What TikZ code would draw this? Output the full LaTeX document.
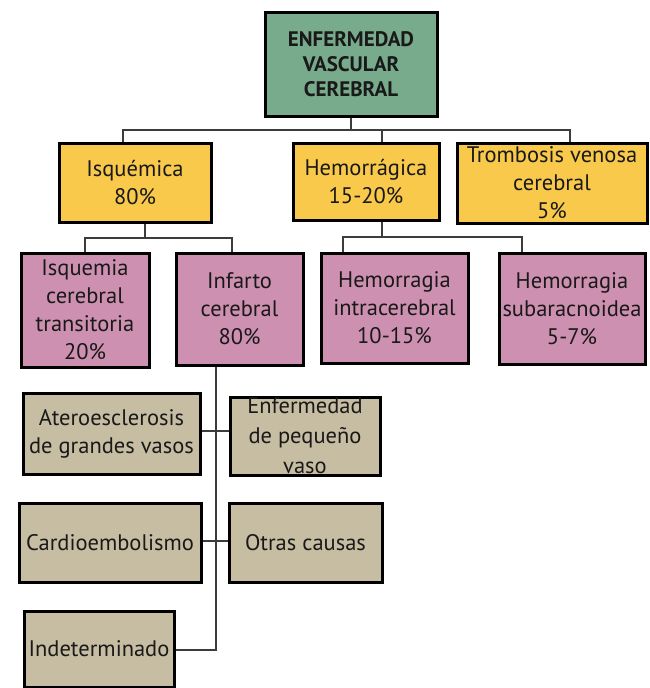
\documentclass[tikz,border=0pt]{standalone}
\usepackage{fontspec}
\setmainfont{PT Sans}
\definecolor{cgreen}{RGB}{120,170,140}
\definecolor{cyellow}{RGB}{249,201,76}
\definecolor{cpink}{RGB}{206,144,176}
\definecolor{ctan}{RGB}{199,189,162}
\definecolor{ctext}{RGB}{25,25,25}
\definecolor{cline}{RGB}{60,60,60}
\tikzset{
  box/.style={draw=black, line width=3pt, inner sep=0pt, align=center, text=ctext,
    font=\fontsize{22.5}{28}\selectfont},
  topbox/.style={box, fill=cgreen, font=\bfseries\fontsize{21}{25}\selectfont},
  lvlone/.style={box, fill=cyellow},
  lvltwo/.style={box, fill=cpink},
  lvlthree/.style={box, fill=ctan},
  conn/.style={draw=cline, line width=1.2pt}
}
\begin{document}
\begin{tikzpicture}[x=1pt,y=-1pt]
\useasboundingbox[fill=white] (0,0) rectangle (650,688);
% nodes
\node[topbox, minimum width=172pt, minimum height=104pt] (top) at (351,64) {ENFERMEDAD\\VASCULAR\\CEREBRAL};
\node[lvlone, minimum width=152pt, minimum height=79pt] (isq) at (135,182.5) {Isquémica\\80\%};
\node[lvlone, minimum width=146pt, minimum height=77pt] (hemo) at (366,181.5) {Hemorrágica\\15-20\%};
\node[lvlone, minimum width=190pt, minimum height=80pt] (trom) at (552,183) {Trombosis venosa\\cerebral\\5\%};
\node[lvltwo, minimum width=128pt, minimum height=114pt] (isqt) at (85,310) {Isquemia\\cerebral\\transitoria\\20\%};
\node[lvltwo, minimum width=127pt, minimum height=112pt] (inf) at (239.5,309) {Infarto\\cerebral\\80\%};
\node[lvltwo, minimum width=147pt, minimum height=110pt] (hemi) at (394.5,308) {Hemorragia\\intracerebral\\10-15\%};
\node[lvltwo, minimum width=146pt, minimum height=111pt] (hems) at (572,308.5) {Hemorragia\\subaracnoidea\\5-7\%};
\node[lvlthree, minimum width=177pt, minimum height=81pt] (atero) at (111.5,433.5) {Ateroesclerosis\\de grandes vasos};
\node[lvlthree, minimum width=150pt, minimum height=78pt, font=\fontsize{22.5}{30}\selectfont] (peq) at (305,436) {Enfermedad\\de pequeño\\vaso};
\node[lvlthree, minimum width=182pt, minimum height=79pt] (cardio) at (110,542.5) {Cardioembolismo};
\node[lvlthree, minimum width=153pt, minimum height=79pt] (otras) at (305.5,542.5) {Otras causas};
\node[lvlthree, minimum width=150pt, minimum height=76pt] (indet) at (99,649) {Indeterminado};
% level 0 -> 1
\coordinate (b0) at (351,130);
\coordinate (bl) at (123,130);
\coordinate (bm) at (382,130);
\coordinate (br) at (570,130);
\draw[conn] (top.south) -- (b0);
\draw[conn] (bl |- isq.north) -- (bl) -- (br) -- (br |- trom.north);
\draw[conn] (bm) -- (bm |- hemo.north);
% isquemica -> children
\coordinate (c0) at (145,238);
\coordinate (cl) at (85,238);
\coordinate (cr) at (232,238);
\draw[conn] (c0 |- isq.south) -- (c0);
\draw[conn] (cl |- isqt.north) -- (cl) -- (cr) -- (cr |- inf.north);
% hemorragica -> children
\coordinate (d0) at (382,237);
\coordinate (dl) at (343,237);
\coordinate (dr) at (522,237);
\draw[conn] (d0 |- hemo.south) -- (d0);
\draw[conn] (dl |- hemi.north) -- (dl) -- (dr) -- (dr |- hems.north);
% infarto -> causes
\coordinate (e0) at (216,650);
\draw[conn] (e0 |- inf.south) -- (e0) -- (e0 -| indet.east);
\coordinate (ea) at (200,431);
\draw[conn] (ea -| atero.east) -- (ea -| peq.west);
\coordinate (ec) at (200,541);
\draw[conn] (ec -| cardio.east) -- (ec -| otras.west);
\end{tikzpicture}
\end{document}
